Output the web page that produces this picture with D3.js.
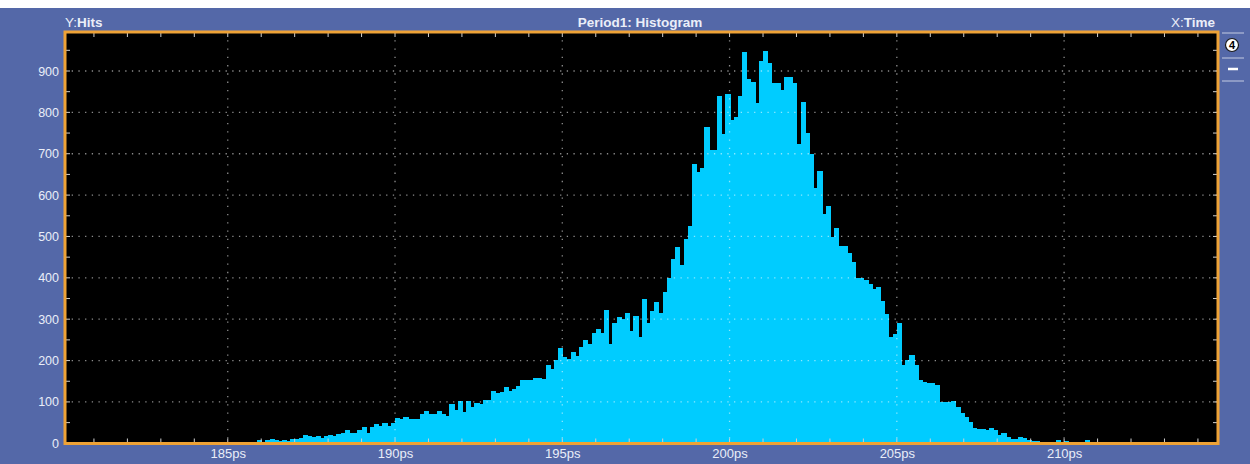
<!DOCTYPE html>
<html>
<head>
<meta charset="utf-8">
<script src="https://cdn.jsdelivr.net/npm/d3@7"></script>
<style>
  body { margin: 0; background: #fff; }
  svg { display: block; font-family: "Liberation Sans", Arial, sans-serif; }
</style>
</head>
<body>
<div id="chart"></div>
<script>
// histogram bins: 0.125 ps wide, first bin starts at 184.375 ps
const binStart = 184.375;
const binWidth = 0.125;
const hits = [
    4, 0, 0, 0, 0, 3, 4, 4, 4, 3,
    2, 4, 8, 3, 8, 10, 8, 6, 8, 6,
    10, 10, 12, 20, 18, 16, 18, 14, 18, 20,
    18, 22, 24, 32, 26, 26, 32, 40, 26, 40,
    46, 42, 48, 42, 48, 60, 58, 64, 58, 58,
    58, 70, 78, 72, 70, 78, 70, 67, 94, 80,
    102, 76, 102, 88, 97, 94, 105, 105, 126, 121,
    124, 136, 126, 132, 138, 154, 152, 154, 157, 157,
    156, 190, 180, 202, 230, 208, 204, 220, 212, 232,
    250, 240, 267, 276, 266, 322, 240, 292, 306, 300,
    315, 272, 308, 258, 350, 290, 321, 341, 316, 365,
    400, 446, 475, 430, 493, 526, 674, 657, 666, 764,
    709, 709, 840, 747, 844, 782, 790, 840, 945, 880,
    874, 822, 923, 948, 920, 872, 872, 854, 885, 885,
    870, 724, 824, 749, 700, 618, 659, 554, 574, 498,
    520, 477, 477, 459, 439, 400, 400, 394, 386, 373,
    379, 345, 313, 257, 265, 291, 189, 201, 213, 189,
    153, 149, 145, 145, 141, 100, 100, 100, 102, 88,
    74, 64, 52, 36, 34, 34, 32, 36, 33, 20,
    26, 16, 10, 10, 16, 12, 8, 6, 5, 4,
    4, 2, 2, 8, 4, 6, 4, 2, 2, 2,
    8, 4, 4, 2
];

const yTicks = [0, 100, 200, 300, 400, 500, 600, 700, 800, 900];
const xTicks = [185, 190, 195, 200, 205, 210];
const titleText = "Period1: Histogram";
const yName = "Hits";
const xName = "Time";

const width = 1250, height = 464;
const plot = {left: 65, right: 1218, top: 32, bottom: 443.5};

const svg = d3.select("#chart")
    .append("svg")
        .attr("width", width)
        .attr("height", height);

// blue frame
svg.append("rect")
    .attr("y", 8)
    .attr("width", width)
    .attr("height", height - 8)
    .attr("fill", "#5468a8");

const x = d3.scaleLinear()
    .domain([180.135, 214.6])
    .range([plot.left, plot.right]);

const y = d3.scaleLinear()
    .domain([0, 900])
    .range([443.3, 71]);

svg.append("rect")
    .attr("x", plot.left)
    .attr("y", plot.top)
    .attr("width", plot.right - plot.left)
    .attr("height", plot.bottom - plot.top)
    .attr("fill", "#000");

const bins = hits.map((h, i) => ({
    x0: binStart + i * binWidth,
    x1: binStart + (i + 1) * binWidth,
    h: h
}));

svg.append("g")
    .attr("fill", "#00ccff")
    .attr("shape-rendering", "crispEdges")
    .selectAll("rect")
    .data(bins)
    .join("rect")
        .attr("x", d => x(d.x0))
        .attr("width", d => x(d.x1) - x(d.x0) + 1)
        .attr("y", d => y(d.h))
        .attr("height", d => y(0) - y(d.h));

// dotted grid on top of the bars
svg.append("g")
    .selectAll("line")
    .data(yTicks.filter(d => d > 0))
    .join("line")
        .attr("x1", plot.left)
        .attr("x2", plot.right)
        .attr("y1", d => y(d))
        .attr("y2", d => y(d))
        .attr("stroke", "rgba(255,255,255,0.55)")
        .attr("stroke-width", 1.3)
        .attr("stroke-dasharray", "1.3 5.39");

svg.append("g")
    .selectAll("line")
    .data(xTicks)
    .join("line")
        .attr("x1", d => x(d))
        .attr("x2", d => x(d))
        .attr("y1", plot.top)
        .attr("y2", plot.bottom)
        .attr("stroke", "rgba(255,255,255,0.55)")
        .attr("stroke-width", 1.3)
        .attr("stroke-dasharray", "1.3 6.97");

// small ticks along the frame edges
const tickColor = "#d0d0d0";
const psTicks = d3.range(181, 215);
const hitTicks = d3.range(50, 1000, 50);

svg.append("g")
    .attr("stroke", tickColor)
    .call(g => g.selectAll(".tt")
        .data(psTicks)
        .join("line")
            .attr("x1", d => x(d)).attr("x2", d => x(d))
            .attr("y1", plot.top).attr("y2", plot.top + 5))
    .call(g => g.selectAll(".tb")
        .data(psTicks)
        .join("line")
            .attr("x1", d => x(d)).attr("x2", d => x(d))
            .attr("y1", plot.bottom - 5).attr("y2", plot.bottom))
    .call(g => g.selectAll(".tl")
        .data(hitTicks)
        .join("line")
            .attr("x1", plot.left).attr("x2", plot.left + 5)
            .attr("y1", d => y(d)).attr("y2", d => y(d)))
    .call(g => g.selectAll(".tr")
        .data(hitTicks)
        .join("line")
            .attr("x1", plot.right - 5).attr("x2", plot.right)
            .attr("y1", d => y(d)).attr("y2", d => y(d)));

svg.append("rect")
    .attr("x", plot.left)
    .attr("y", plot.top)
    .attr("width", plot.right - plot.left)
    .attr("height", plot.bottom - plot.top)
    .attr("fill", "none")
    .attr("stroke", "#eea236")
    .attr("stroke-width", 3);

// axes labels
const labelColor = "#eaeef8";

svg.append("g")
    .attr("transform", "translate(59,0)")
    .call(d3.axisLeft(y).tickValues(yTicks).tickSize(0).tickPadding(0))
    .call(g => g.select(".domain").remove())
    .call(g => g.selectAll("text")
        .attr("fill", labelColor)
        .attr("font-size", 12.5)
        .attr("font-family", "Liberation Sans, Arial, sans-serif"));

svg.append("g")
    .attr("transform", `translate(0,${plot.bottom})`)
    .call(d3.axisBottom(x).tickValues(xTicks).tickSize(0).tickPadding(5).tickFormat(d => d + "ps"))
    .call(g => g.select(".domain").remove())
    .call(g => g.selectAll("text")
        .attr("fill", labelColor)
        .attr("font-size", 13)
        .attr("font-family", "Liberation Sans, Arial, sans-serif"));

// header
svg.append("text")
    .attr("x", plot.left)
    .attr("y", 27)
    .attr("fill", labelColor)
    .attr("font-size", 13.5)
    .call(t => t.append("tspan").text("Y:"))
    .call(t => t.append("tspan").attr("font-weight", "bold").text(yName));

svg.append("text")
    .attr("x", 640)
    .attr("y", 27)
    .attr("text-anchor", "middle")
    .attr("fill", labelColor)
    .attr("font-size", 13.5)
    .attr("font-weight", "bold")
    .text(titleText);

svg.append("text")
    .attr("x", 1215)
    .attr("y", 27)
    .attr("text-anchor", "end")
    .attr("fill", labelColor)
    .attr("font-size", 13.5)
    .call(t => t.append("tspan").text("X:"))
    .call(t => t.append("tspan").attr("font-weight", "bold").text(xName));

// side controls
const side = svg.append("g");
side.selectAll("line")
    .data([33, 58, 81])
    .join("line")
        .attr("x1", 1222).attr("x2", 1244)
        .attr("y1", d => d).attr("y2", d => d)
        .attr("stroke", "#c4cbe2")
        .attr("stroke-width", 1);

side.append("circle")
    .attr("cx", 1232)
    .attr("cy", 45)
    .attr("r", 6.5)
    .attr("fill", "#fff")
    .attr("stroke", "#1a1a1a")
    .attr("stroke-width", 1.2);

side.append("text")
    .attr("x", 1232)
    .attr("y", 49)
    .attr("text-anchor", "middle")
    .attr("font-size", 11)
    .attr("font-weight", "bold")
    .attr("fill", "#000")
    .text("4");

side.append("line")
    .attr("x1", 1228).attr("x2", 1238)
    .attr("y1", 69).attr("y2", 69)
    .attr("stroke", "#fff")
    .attr("stroke-width", 2.5);
</script>
</body>
</html>
